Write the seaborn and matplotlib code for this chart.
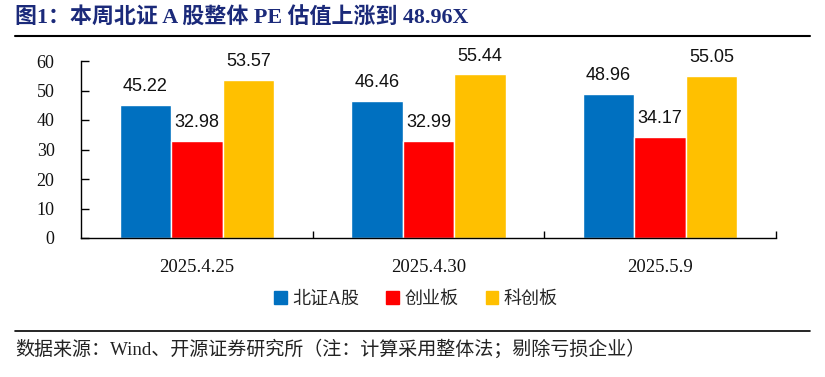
import matplotlib
matplotlib.use("Agg")
import matplotlib.pyplot as plt
import seaborn as sns
import pandas as pd
from matplotlib.lines import Line2D
from matplotlib.patches import Patch

dates = ["2025.4.25", "2025.4.30", "2025.5.9"]
series = ["北证A股", "创业板", "科创板"]
bz_values = [45.22, 46.46, 48.96]
cyb_values = [32.98, 32.99, 34.17]
kcb_values = [53.57, 55.44, 55.05]
colors = ["#0070C0", "#FF0000", "#FFC000"]
y_ticks = [0, 10, 20, 30, 40, 50, 60]

rows = []
for s, vals in zip(series, [bz_values, cyb_values, kcb_values]):
    for d, v in zip(dates, vals):
        rows.append({"date": d, "series": s, "value": v})
df = pd.DataFrame(rows)

sns.set_theme(style="white")
plt.rcParams['font.family'] = ['Liberation Serif', 'Noto Sans CJK SC', 'DejaVu Sans']

fig = plt.figure(figsize=(8.25, 3.77), dpi=100)
ax = fig.add_axes([81/825, 1-238/377, (776-81)/825, (238-61)/377])

sns.barplot(data=df, x="date", y="value", hue="series", order=dates,
            hue_order=series, palette=colors, width=0.667, ax=ax,
            legend=False, saturation=1, errorbar=None)

for cont in ax.containers:
    for bar in cont:
        h = bar.get_height()
        ax.annotate(f"{h:.2f}", (bar.get_x() + bar.get_width()/2, h),
                    xytext=(0, 7), textcoords="offset points",
                    ha="center", va="bottom", fontsize=13,
                    family=["Liberation Sans", "DejaVu Sans"], color="#111111")

ax.set_ylim(0, 60)
ax.set_xlim(-0.5, 2.5)
ax.set_yticks(y_ticks)
ax.set_yticklabels([str(t) for t in y_ticks], fontsize=13, color="#111111")
ax.set_xticks([0, 1, 2])
ax.set_xticklabels(dates, fontsize=13.5, color="#111111")
ax.set_xticks([0.5, 1.5, 2.5], minor=True)
ax.tick_params(axis="x", which="major", length=0, pad=15)
ax.tick_params(axis="x", which="minor", direction="in", length=5, width=1, color="black", bottom=True)
ax.tick_params(axis="y", direction="in", length=6, width=1, color="black", pad=19, left=True)
ax.set_xlabel("")
ax.set_ylabel("")
for side in ["top", "right"]:
    ax.spines[side].set_visible(False)
for side in ["left", "bottom"]:
    ax.spines[side].set_color("black")
    ax.spines[side].set_linewidth(1)

handles = [Patch(facecolor=c, edgecolor=c) for c in colors]
fig.legend(handles, series, loc="center", bbox_to_anchor=(416/825, 1-299/377),
           ncol=3, frameon=False, handlelength=0.7, handleheight=0.7,
           handletextpad=0.3, columnspacing=1.5,
           prop={"family": ["Liberation Serif", "Noto Sans CJK SC"], "size": 13})

fig.text(15/825, 1-18/377, "图1：本周北证 A 股整体 PE 估值上涨到 48.96X",
         ha="left", va="center", fontsize=15.8, fontweight="bold", color="#1B2A7A",
         family=["Liberation Serif", "Noto Sans CJK SC"])
fig.add_artist(Line2D([15/825, 810/825], [1-36/377, 1-36/377], color="black", lw=1.5))
fig.add_artist(Line2D([15/825, 810/825], [1-331/377, 1-331/377], color="black", lw=1.2))
fig.text(15/825, 1-349/377, "数据来源：Wind、开源证券研究所（注：计算采用整体法；剔除亏损企业）",
         ha="left", va="center", fontsize=13.7, color="#222222",
         family=["Liberation Serif", "Noto Sans CJK SC"])

fig.savefig("out.png", dpi=100)
